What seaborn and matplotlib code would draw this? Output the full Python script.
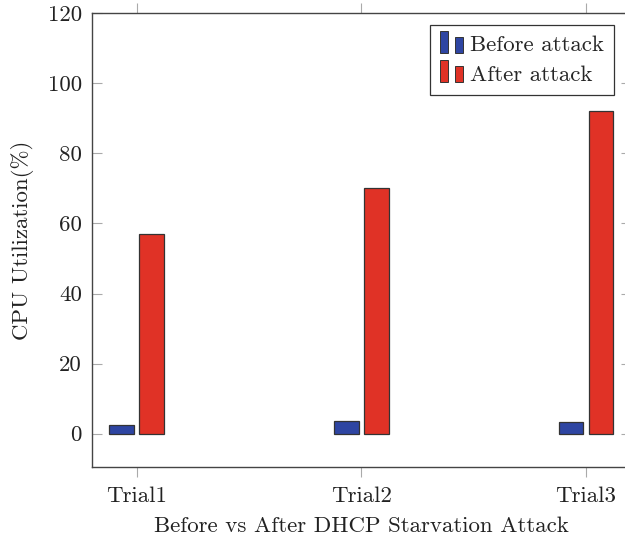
import matplotlib
matplotlib.use("Agg")
import matplotlib.pyplot as plt
from matplotlib.legend_handler import HandlerBase
from matplotlib.patches import Rectangle
import seaborn as sns
import pandas as pd

# CPU utilisation per trial, before and after the DHCP starvation attack
trials = ["Trial1", "Trial2", "Trial3"]
before_attack = [2.4, 3.5, 3.3]
after_attack = [57, 70, 92]
series_names = ["Before attack", "After attack"]
y_ticks = [0, 20, 40, 60, 80, 100, 120]

colors = {"Before attack": "#2E45A2", "After attack": "#E03226"}

df = pd.DataFrame({
    "trial": trials * 2,
    "value": before_attack + after_attack,
    "series": [series_names[0]] * len(trials) + [series_names[1]] * len(trials),
})

sns.set_style("white")
plt.rcParams["font.family"] = ["cmr10", "DejaVu Serif"]
plt.rcParams["mathtext.fontset"] = "cm"
plt.rcParams["axes.formatter.use_mathtext"] = True

FS = 16.5

fig = plt.figure(figsize=(6.25, 5.42), dpi=100)
ax = fig.add_axes([0.1467, 0.1389, 0.8629, 0.8366])

sns.barplot(data=df, x="trial", y="value", hue="series", order=trials,
            hue_order=series_names, palette=colors, width=0.268, gap=0.18,
            edgecolor="#333333", linewidth=0.9, saturation=1, ax=ax,
            legend=False)

ax.set_xlim(-0.2, 2.2)
ax.set_ylim(-9.42, 120)
ax.set_yticks(y_ticks)
ax.set_yticklabels([str(t) for t in y_ticks])

for side in ["left", "right", "top", "bottom"]:
    ax.spines[side].set_visible(True)
    ax.spines[side].set_color("#444444")
    ax.spines[side].set_linewidth(1.0)

ax.tick_params(axis="x", direction="out", length=7, width=0.8, color="#aaaaaa",
               top=True, bottom=True, labelsize=FS, pad=7, labelcolor="#222222")
ax.tick_params(axis="y", direction="in", length=7, width=0.8, color="#aaaaaa",
               left=True, right=True, labelsize=FS, pad=7, labelcolor="#222222")

ax.set_xlabel("Before vs After DHCP Starvation Attack", fontsize=FS,
              color="#222222", labelpad=8)
ax.set_ylabel("CPU Utilization(%)", fontsize=FS, color="#222222", labelpad=10)


class TwoBarHandler(HandlerBase):
    """Legend key drawn as two small bars, as in pgfplots ybar legends."""

    def create_artists(self, legend, orig_handle, xdescent, ydescent,
                       width, height, fontsize, trans):
        face = orig_handle.get_facecolor()
        w = width * 0.34
        r1 = Rectangle((-xdescent, -ydescent - height * 0.1), w, height * 1.4,
                       facecolor=face, edgecolor="#333333", linewidth=0.7,
                       transform=trans)
        r2 = Rectangle((-xdescent + width * 0.66, -ydescent - height * 0.1), w,
                       height * 1.0, facecolor=face, edgecolor="#333333",
                       linewidth=0.7, transform=trans)
        return [r1, r2]


handles = [Rectangle((0, 0), 1, 1, facecolor=colors[n]) for n in series_names]
leg = ax.legend(handles, series_names, loc="upper right",
                bbox_to_anchor=(614 / 625, 1 - 25 / 542),
                bbox_transform=fig.transFigure, borderaxespad=0,
                fontsize=FS, frameon=True, fancybox=False, framealpha=1,
                edgecolor="#333333", handler_map={Rectangle: TwoBarHandler()},
                handlelength=1.0, handletextpad=0.3, borderpad=0.45,
                labelspacing=0.4)
leg.get_frame().set_linewidth(0.9)

fig.savefig("out.png", dpi=100)
